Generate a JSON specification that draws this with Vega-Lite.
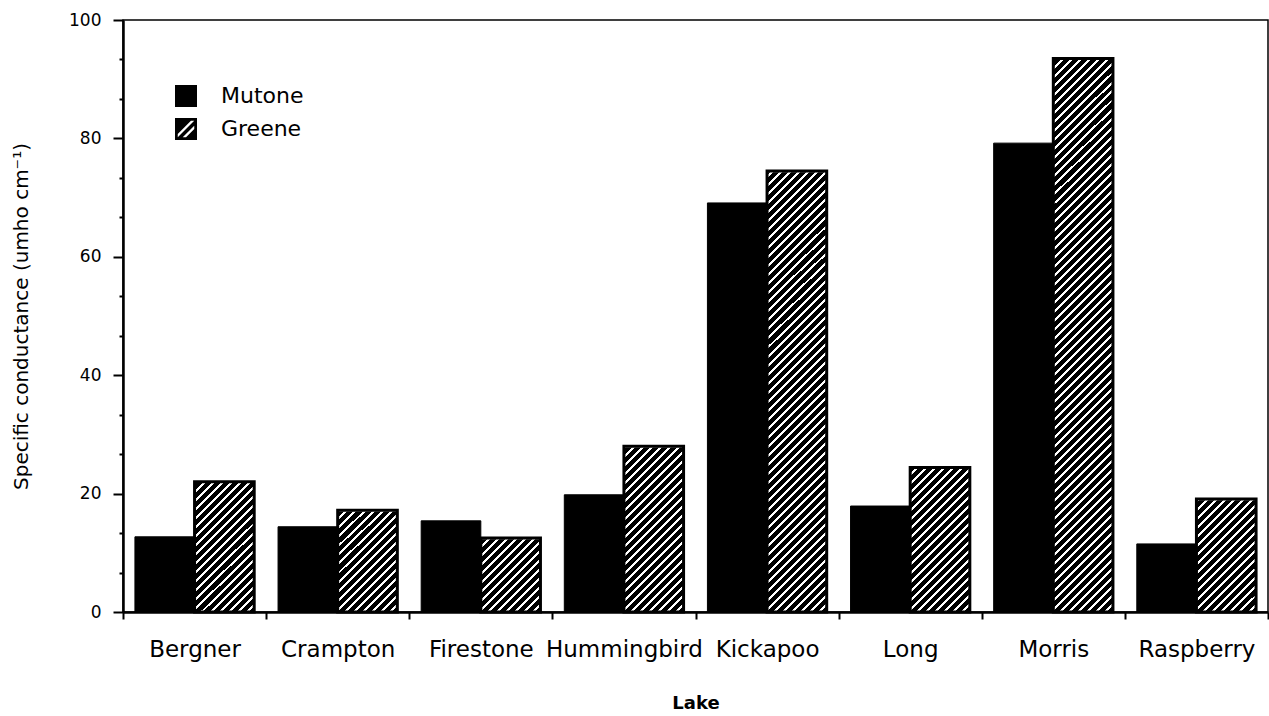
{
  "$schema": "https://vega.github.io/schema/vega-lite/v6.json",
  "width": 1145,
  "height": 592,
  "autosize": {"type": "none"},
  "padding": {"left": 123, "top": 20, "right": 1, "bottom": 104},
  "background": "#ffffff",
  "config": {
    "font": "DejaVu Sans",
    "view": {"stroke": "#000000", "strokeWidth": 1.5},
    "axis": {"domainColor": "#000000", "tickColor": "#000000", "labelColor": "#000000", "titleColor": "#000000", "grid": false, "labelFont": "DejaVu Sans", "titleFont": "DejaVu Sans"},
    "axisY": {"labelOverlap": false, "labelFlush": false},
    "legend": {"labelFont": "DejaVu Sans"}
  },
  "data": {
    "values": [
      {"lake": "Bergner", "series": "Mutone", "value": 12.7},
      {"lake": "Bergner", "series": "Greene", "value": 22.0},
      {"lake": "Crampton", "series": "Mutone", "value": 14.4},
      {"lake": "Crampton", "series": "Greene", "value": 17.2},
      {"lake": "Firestone", "series": "Mutone", "value": 15.4},
      {"lake": "Firestone", "series": "Greene", "value": 12.5},
      {"lake": "Hummingbird", "series": "Mutone", "value": 19.8},
      {"lake": "Hummingbird", "series": "Greene", "value": 28.0},
      {"lake": "Kickapoo", "series": "Mutone", "value": 69.1},
      {"lake": "Kickapoo", "series": "Greene", "value": 74.5},
      {"lake": "Long", "series": "Mutone", "value": 17.9},
      {"lake": "Long", "series": "Greene", "value": 24.4},
      {"lake": "Morris", "series": "Mutone", "value": 79.2},
      {"lake": "Morris", "series": "Greene", "value": 93.5},
      {"lake": "Raspberry", "series": "Mutone", "value": 11.5},
      {"lake": "Raspberry", "series": "Greene", "value": 19.1}
    ]
  },
  "encoding": {
    "x": {
      "field": "lake", "type": "nominal", "sort": null, "title": "Lake",
      "scale": {"paddingInner": 0, "paddingOuter": 0},
      "axis": {"labelAngle": 0, "grid": false, "tickBand": "extent", "tickSize": 7, "tickWidth": 2, "domainWidth": 2.5, "labelFontSize": 23, "labelPadding": 19, "labelOverlap": false, "titleFontSize": 18, "titleFontWeight": "bold", "titlePadding": 33}
    },
    "xOffset": {
      "field": "series", "type": "nominal",
      "scale": {"domain": ["Mutone", "Greene"], "paddingInner": 0, "paddingOuter": 0.2}
    }
  },
  "layer": [
    {
      "transform": [{"filter": "datum.series === 'Greene'"}],
      "mark": {"type": "bar", "strokeWidth": 0},
      "encoding": {
        "y": {"datum": 0, "type": "quantitative"},
        "y2": {"datum": 99.6},
        "fill": {"value": {"gradient": "linear", "x1": 0, "y1": 0, "x2": 0.11, "y2": 1.0898, "stops": [
{"offset":0,"color":"#fff"},{"offset":0.0046,"color":"#fff"},{"offset":0.0046,"color":"#000"},{"offset":0.0139,"color":"#000"},
{"offset":0.0139,"color":"#fff"},{"offset":0.0185,"color":"#fff"},{"offset":0.0185,"color":"#000"},{"offset":0.0278,"color":"#000"},
{"offset":0.0278,"color":"#fff"},{"offset":0.0324,"color":"#fff"},{"offset":0.0324,"color":"#000"},{"offset":0.0417,"color":"#000"},
{"offset":0.0417,"color":"#fff"},{"offset":0.0463,"color":"#fff"},{"offset":0.0463,"color":"#000"},{"offset":0.0556,"color":"#000"},
{"offset":0.0556,"color":"#fff"},{"offset":0.0602,"color":"#fff"},{"offset":0.0602,"color":"#000"},{"offset":0.0694,"color":"#000"},
{"offset":0.0694,"color":"#fff"},{"offset":0.0740,"color":"#fff"},{"offset":0.0740,"color":"#000"},{"offset":0.0833,"color":"#000"},
{"offset":0.0833,"color":"#fff"},{"offset":0.0879,"color":"#fff"},{"offset":0.0879,"color":"#000"},{"offset":0.0972,"color":"#000"},
{"offset":0.0972,"color":"#fff"},{"offset":0.1018,"color":"#fff"},{"offset":0.1018,"color":"#000"},{"offset":0.1111,"color":"#000"},
{"offset":0.1111,"color":"#fff"},{"offset":0.1157,"color":"#fff"},{"offset":0.1157,"color":"#000"},{"offset":0.1250,"color":"#000"},
{"offset":0.1250,"color":"#fff"},{"offset":0.1296,"color":"#fff"},{"offset":0.1296,"color":"#000"},{"offset":0.1389,"color":"#000"},
{"offset":0.1389,"color":"#fff"},{"offset":0.1435,"color":"#fff"},{"offset":0.1435,"color":"#000"},{"offset":0.1528,"color":"#000"},
{"offset":0.1528,"color":"#fff"},{"offset":0.1574,"color":"#fff"},{"offset":0.1574,"color":"#000"},{"offset":0.1667,"color":"#000"},
{"offset":0.1667,"color":"#fff"},{"offset":0.1713,"color":"#fff"},{"offset":0.1713,"color":"#000"},{"offset":0.1806,"color":"#000"},
{"offset":0.1806,"color":"#fff"},{"offset":0.1852,"color":"#fff"},{"offset":0.1852,"color":"#000"},{"offset":0.1944,"color":"#000"},
{"offset":0.1944,"color":"#fff"},{"offset":0.1990,"color":"#fff"},{"offset":0.1990,"color":"#000"},{"offset":0.2083,"color":"#000"},
{"offset":0.2083,"color":"#fff"},{"offset":0.2129,"color":"#fff"},{"offset":0.2129,"color":"#000"},{"offset":0.2222,"color":"#000"},
{"offset":0.2222,"color":"#fff"},{"offset":0.2268,"color":"#fff"},{"offset":0.2268,"color":"#000"},{"offset":0.2361,"color":"#000"},
{"offset":0.2361,"color":"#fff"},{"offset":0.2407,"color":"#fff"},{"offset":0.2407,"color":"#000"},{"offset":0.2500,"color":"#000"},
{"offset":0.2500,"color":"#fff"},{"offset":0.2546,"color":"#fff"},{"offset":0.2546,"color":"#000"},{"offset":0.2639,"color":"#000"},
{"offset":0.2639,"color":"#fff"},{"offset":0.2685,"color":"#fff"},{"offset":0.2685,"color":"#000"},{"offset":0.2778,"color":"#000"},
{"offset":0.2778,"color":"#fff"},{"offset":0.2824,"color":"#fff"},{"offset":0.2824,"color":"#000"},{"offset":0.2917,"color":"#000"},
{"offset":0.2917,"color":"#fff"},{"offset":0.2963,"color":"#fff"},{"offset":0.2963,"color":"#000"},{"offset":0.3056,"color":"#000"},
{"offset":0.3056,"color":"#fff"},{"offset":0.3102,"color":"#fff"},{"offset":0.3102,"color":"#000"},{"offset":0.3194,"color":"#000"},
{"offset":0.3194,"color":"#fff"},{"offset":0.3240,"color":"#fff"},{"offset":0.3240,"color":"#000"},{"offset":0.3333,"color":"#000"},
{"offset":0.3333,"color":"#fff"},{"offset":0.3379,"color":"#fff"},{"offset":0.3379,"color":"#000"},{"offset":0.3472,"color":"#000"},
{"offset":0.3472,"color":"#fff"},{"offset":0.3518,"color":"#fff"},{"offset":0.3518,"color":"#000"},{"offset":0.3611,"color":"#000"},
{"offset":0.3611,"color":"#fff"},{"offset":0.3657,"color":"#fff"},{"offset":0.3657,"color":"#000"},{"offset":0.3750,"color":"#000"},
{"offset":0.3750,"color":"#fff"},{"offset":0.3796,"color":"#fff"},{"offset":0.3796,"color":"#000"},{"offset":0.3889,"color":"#000"},
{"offset":0.3889,"color":"#fff"},{"offset":0.3935,"color":"#fff"},{"offset":0.3935,"color":"#000"},{"offset":0.4028,"color":"#000"},
{"offset":0.4028,"color":"#fff"},{"offset":0.4074,"color":"#fff"},{"offset":0.4074,"color":"#000"},{"offset":0.4167,"color":"#000"},
{"offset":0.4167,"color":"#fff"},{"offset":0.4213,"color":"#fff"},{"offset":0.4213,"color":"#000"},{"offset":0.4306,"color":"#000"},
{"offset":0.4306,"color":"#fff"},{"offset":0.4352,"color":"#fff"},{"offset":0.4352,"color":"#000"},{"offset":0.4444,"color":"#000"},
{"offset":0.4444,"color":"#fff"},{"offset":0.4490,"color":"#fff"},{"offset":0.4490,"color":"#000"},{"offset":0.4583,"color":"#000"},
{"offset":0.4583,"color":"#fff"},{"offset":0.4629,"color":"#fff"},{"offset":0.4629,"color":"#000"},{"offset":0.4722,"color":"#000"},
{"offset":0.4722,"color":"#fff"},{"offset":0.4768,"color":"#fff"},{"offset":0.4768,"color":"#000"},{"offset":0.4861,"color":"#000"},
{"offset":0.4861,"color":"#fff"},{"offset":0.4907,"color":"#fff"},{"offset":0.4907,"color":"#000"},{"offset":0.5000,"color":"#000"},
{"offset":0.5000,"color":"#fff"},{"offset":0.5046,"color":"#fff"},{"offset":0.5046,"color":"#000"},{"offset":0.5139,"color":"#000"},
{"offset":0.5139,"color":"#fff"},{"offset":0.5185,"color":"#fff"},{"offset":0.5185,"color":"#000"},{"offset":0.5278,"color":"#000"},
{"offset":0.5278,"color":"#fff"},{"offset":0.5324,"color":"#fff"},{"offset":0.5324,"color":"#000"},{"offset":0.5417,"color":"#000"},
{"offset":0.5417,"color":"#fff"},{"offset":0.5463,"color":"#fff"},{"offset":0.5463,"color":"#000"},{"offset":0.5556,"color":"#000"},
{"offset":0.5556,"color":"#fff"},{"offset":0.5602,"color":"#fff"},{"offset":0.5602,"color":"#000"},{"offset":0.5694,"color":"#000"},
{"offset":0.5694,"color":"#fff"},{"offset":0.5740,"color":"#fff"},{"offset":0.5740,"color":"#000"},{"offset":0.5833,"color":"#000"},
{"offset":0.5833,"color":"#fff"},{"offset":0.5879,"color":"#fff"},{"offset":0.5879,"color":"#000"},{"offset":0.5972,"color":"#000"},
{"offset":0.5972,"color":"#fff"},{"offset":0.6018,"color":"#fff"},{"offset":0.6018,"color":"#000"},{"offset":0.6111,"color":"#000"},
{"offset":0.6111,"color":"#fff"},{"offset":0.6157,"color":"#fff"},{"offset":0.6157,"color":"#000"},{"offset":0.6250,"color":"#000"},
{"offset":0.6250,"color":"#fff"},{"offset":0.6296,"color":"#fff"},{"offset":0.6296,"color":"#000"},{"offset":0.6389,"color":"#000"},
{"offset":0.6389,"color":"#fff"},{"offset":0.6435,"color":"#fff"},{"offset":0.6435,"color":"#000"},{"offset":0.6528,"color":"#000"},
{"offset":0.6528,"color":"#fff"},{"offset":0.6574,"color":"#fff"},{"offset":0.6574,"color":"#000"},{"offset":0.6667,"color":"#000"},
{"offset":0.6667,"color":"#fff"},{"offset":0.6713,"color":"#fff"},{"offset":0.6713,"color":"#000"},{"offset":0.6806,"color":"#000"},
{"offset":0.6806,"color":"#fff"},{"offset":0.6852,"color":"#fff"},{"offset":0.6852,"color":"#000"},{"offset":0.6944,"color":"#000"},
{"offset":0.6944,"color":"#fff"},{"offset":0.6990,"color":"#fff"},{"offset":0.6990,"color":"#000"},{"offset":0.7083,"color":"#000"},
{"offset":0.7083,"color":"#fff"},{"offset":0.7129,"color":"#fff"},{"offset":0.7129,"color":"#000"},{"offset":0.7222,"color":"#000"},
{"offset":0.7222,"color":"#fff"},{"offset":0.7268,"color":"#fff"},{"offset":0.7268,"color":"#000"},{"offset":0.7361,"color":"#000"},
{"offset":0.7361,"color":"#fff"},{"offset":0.7407,"color":"#fff"},{"offset":0.7407,"color":"#000"},{"offset":0.7500,"color":"#000"},
{"offset":0.7500,"color":"#fff"},{"offset":0.7546,"color":"#fff"},{"offset":0.7546,"color":"#000"},{"offset":0.7639,"color":"#000"},
{"offset":0.7639,"color":"#fff"},{"offset":0.7685,"color":"#fff"},{"offset":0.7685,"color":"#000"},{"offset":0.7778,"color":"#000"},
{"offset":0.7778,"color":"#fff"},{"offset":0.7824,"color":"#fff"},{"offset":0.7824,"color":"#000"},{"offset":0.7917,"color":"#000"},
{"offset":0.7917,"color":"#fff"},{"offset":0.7963,"color":"#fff"},{"offset":0.7963,"color":"#000"},{"offset":0.8056,"color":"#000"},
{"offset":0.8056,"color":"#fff"},{"offset":0.8102,"color":"#fff"},{"offset":0.8102,"color":"#000"},{"offset":0.8194,"color":"#000"},
{"offset":0.8194,"color":"#fff"},{"offset":0.8240,"color":"#fff"},{"offset":0.8240,"color":"#000"},{"offset":0.8333,"color":"#000"},
{"offset":0.8333,"color":"#fff"},{"offset":0.8379,"color":"#fff"},{"offset":0.8379,"color":"#000"},{"offset":0.8472,"color":"#000"},
{"offset":0.8472,"color":"#fff"},{"offset":0.8518,"color":"#fff"},{"offset":0.8518,"color":"#000"},{"offset":0.8611,"color":"#000"},
{"offset":0.8611,"color":"#fff"},{"offset":0.8657,"color":"#fff"},{"offset":0.8657,"color":"#000"},{"offset":0.8750,"color":"#000"},
{"offset":0.8750,"color":"#fff"},{"offset":0.8796,"color":"#fff"},{"offset":0.8796,"color":"#000"},{"offset":0.8889,"color":"#000"},
{"offset":0.8889,"color":"#fff"},{"offset":0.8935,"color":"#fff"},{"offset":0.8935,"color":"#000"},{"offset":0.9028,"color":"#000"},
{"offset":0.9028,"color":"#fff"},{"offset":0.9074,"color":"#fff"},{"offset":0.9074,"color":"#000"},{"offset":0.9167,"color":"#000"},
{"offset":0.9167,"color":"#fff"},{"offset":0.9213,"color":"#fff"},{"offset":0.9213,"color":"#000"},{"offset":0.9306,"color":"#000"},
{"offset":0.9306,"color":"#fff"},{"offset":0.9352,"color":"#fff"},{"offset":0.9352,"color":"#000"},{"offset":0.9444,"color":"#000"},
{"offset":0.9444,"color":"#fff"},{"offset":0.9490,"color":"#fff"},{"offset":0.9490,"color":"#000"},{"offset":0.9583,"color":"#000"},
{"offset":0.9583,"color":"#fff"},{"offset":0.9629,"color":"#fff"},{"offset":0.9629,"color":"#000"},{"offset":0.9722,"color":"#000"},
{"offset":0.9722,"color":"#fff"},{"offset":0.9768,"color":"#fff"},{"offset":0.9768,"color":"#000"},{"offset":0.9861,"color":"#000"},
{"offset":0.9861,"color":"#fff"},{"offset":0.9907,"color":"#fff"},{"offset":0.9907,"color":"#000"},{"offset":1,"color":"#000"}
        ]}}
      }
    },
    {
      "transform": [{"filter": "datum.series === 'Greene'"}],
      "mark": {"type": "bar", "fill": "#ffffff", "stroke": "#ffffff", "strokeWidth": 2.5},
      "encoding": {
        "y": {"field": "value", "type": "quantitative"},
        "y2": {"datum": 99.6}
      }
    },
    {
      "transform": [{"filter": "datum.series === 'Greene'"}],
      "mark": {"type": "bar", "fillOpacity": 0, "stroke": "#000000", "strokeWidth": 3},
      "encoding": {
        "y": {"field": "value", "type": "quantitative"}
      }
    },
    {
      "mark": {"type": "bar", "stroke": "#000000", "strokeWidth": 1},
      "transform": [{"filter": "datum.series === 'Mutone'"}],
      "encoding": {
        "y": {
          "field": "value", "type": "quantitative",
          "title": "Specific conductance (umho cm⁻¹)",
          "scale": {"domain": [0, 100], "nice": false},
          "axis": {
            "values": [0, 6.6667, 13.3333, 20, 26.6667, 33.3333, 40, 46.6667, 53.3333, 60, 66.6667, 73.3333, 80, 86.6667, 93.3333, 100],
            "tickCount": 40,
            "labelExpr": "abs(datum.value - 20 * round(datum.value / 20)) < 0.01 ? format(datum.value, 'd') : ''",
            "grid": false,
            "labelOverlap": false,
            "labelFlush": false,
            "tickSize": {"condition": {"test": "abs(datum.value - 20 * round(datum.value / 20)) < 0.01", "value": 10}, "value": 4},
            "tickWidth": 2, "domainWidth": 2.5, "labelFontSize": 17, "labelPadding": 12,
            "titleFontSize": 20, "titleFontWeight": "normal", "titlePadding": 37
          }
        },
        "color": {
          "field": "series", "type": "nominal",
          "scale": {"domain": ["Mutone", "Greene"], "range": ["#000000", "#000000"]},
          "legend": {
            "orient": "none", "legendX": 52, "legendY": 65, "title": null,
            "symbolType": {"expr": "datum.value === 'Greene' ? 'M-1,-1L1,-1L1,1L-1,1ZM0.45,-0.75L-0.75,0.45L-0.75,0.75L0.75,-0.75ZM0.75,-0.3L-0.3,0.75L0,0.75L0.75,0Z' : 'square'"},
            "symbolSize": 484, "symbolStrokeWidth": 0, "symbolOpacity": 1, "symbolFillColor": "#000000",
            "labelFontSize": 22, "labelOffset": 24, "rowPadding": 11, "padding": 0
          }
        }
      }
    }
  ]
}
